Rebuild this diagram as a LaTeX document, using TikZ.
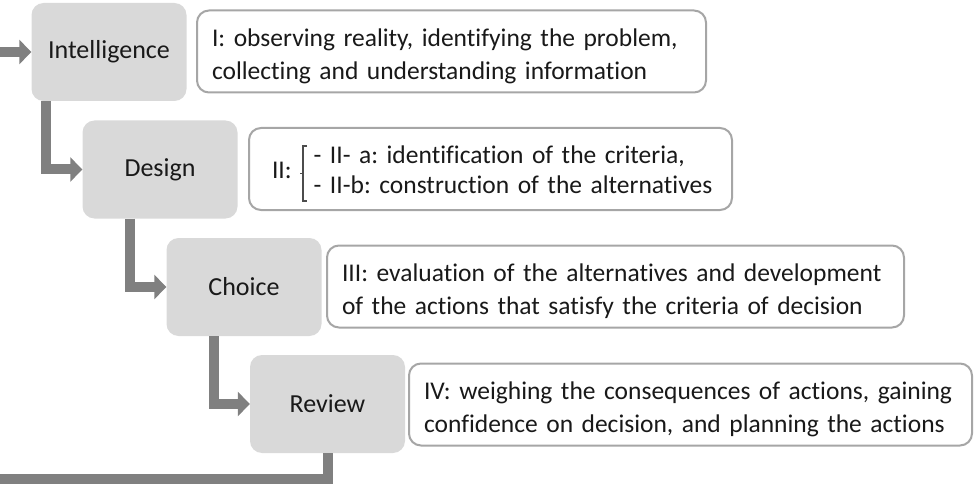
\documentclass[tikz,border=0pt]{standalone}
\usepackage{fontspec}
\setmainfont{Carlito}[Ligatures=NoCommon]
\frenchspacing
\usetikzlibrary{arrows.meta,calc}
\definecolor{stagegray}{HTML}{D9D9D9}
\definecolor{flowgray}{HTML}{808080}
\definecolor{notegray}{HTML}{A6A6A6}
\begin{document}
\begin{tikzpicture}[x=1pt,y=1pt,
    stage/.style={fill=stagegray,rounded corners=12pt,minimum width=155pt,
      minimum height=98pt,text=black!90,font=\fontsize{26}{30}\selectfont},
    note/.style={draw=notegray,line width=2pt,rounded corners=12pt,fill=white,
      align=left,minimum height=82pt,inner xsep=15pt,text=black!90,
      font=\fontsize{25.5}{33}\selectfont,
      execute at begin node=\rule{0pt}{28pt}},
    flow/.style={draw=flowgray,line width=10pt,
      -{Triangle[length=12pt,width=24pt]}}]
    \useasboundingbox (0,0) rectangle (975,-484);
    \node[stage] (intel) at (109,-52) {Intelligence};
    \node[stage] (design) at (160,-169.5) {Design};
    \node[stage] (choice) at (244,-287) {Choice};
    \node[stage] (review) at (327.5,-404) {Review};
    \node[note,text width=479pt] (intelnote) at (451.5,-51.5)
      {I: observing reality, identifying the problem,\\
       collecting and understanding information};
    \node[note,text width=453pt] (designnote) at (490.5,-169)
      {\rule{0pt}{44pt}\hspace{8pt}II:\hspace{22pt}\begin{tabular}{@{}l@{}}
         - II- a: identification of the criteria,\\[-3pt]
         - II-b: construction of the alternatives\end{tabular}};
    \node[note,text width=547pt] (choicenote) at (615.5,-286.5)
      {III: evaluation of the alternatives and development\\
       of the actions that satisfy the criteria of decision};
    \node[note,text width=533pt] (reviewnote) at (690.5,-404.5)
      {IV: weighing the consequences of actions, gaining\\
       confidence on decision, and planning the actions};
    \draw[black!70,line width=1.2pt]
      (307,-146) -- (303,-146) -- (303,-201) -- (307,-201)
      (303,-173.5) -- (300,-173.5);
    \coordinate (entry) at (0,-52);
    \coordinate (loopend) at (0,-479);
    \draw[flow] (entry) -- (intel.west);
    \draw[flow] ([xshift=-36pt]intel.south -| design.west) |- (design.west);
    \draw[flow] ([xshift=-36pt]design.south -| choice.west) |- (choice.west);
    \draw[flow] ([xshift=-36pt]choice.south -| review.west) |- (review.west);
    \draw[flowgray,line width=10pt] (review.south) |- (loopend);
  \end{tikzpicture}
\end{document}
